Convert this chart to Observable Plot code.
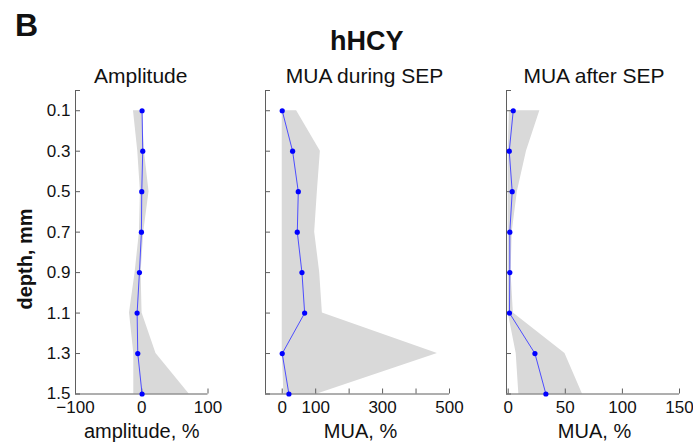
<!DOCTYPE html>
<html><head><meta charset="utf-8">
<script src="https://cdn.jsdelivr.net/npm/d3@7"></script>
<script src="https://cdn.jsdelivr.net/npm/@observablehq/plot@0.6"></script>
<style>
html,body{margin:0;padding:0;background:#fff;}
#fig{position:relative;width:693px;height:443px;overflow:hidden;font-family:"Liberation Sans",Arial,sans-serif;color:#111;}
#fig svg{position:absolute;left:0;top:0;}
.t{position:absolute;white-space:nowrap;line-height:1;}
</style></head><body>
<div id="fig">
<div class="t" style="left:15px;top:9px;font-size:32px;font-weight:bold;">B</div>
<div class="t" style="left:366.7px;top:28px;font-size:27px;font-weight:bold;transform:translateX(-50%);">hHCY</div>
<div class="t" style="left:25px;top:259px;font-size:20px;font-weight:bold;transform:translate(-50%,-50%) rotate(-90deg);">depth, mm</div>
</div>
<script>
// depth levels (mm)
const depth = [0.1, 0.3, 0.5, 0.7, 0.9, 1.1, 1.3, 1.5];
const depthLabels = [0.1, 0.3, 0.5, 0.7, 0.9, 1.1, 1.3, 1.5];

// Amplitude, %
const ampMean = [0.5, 1.5, 0, -0.5, -3.5, -7, -6, 0.5];
const ampLo   = [-12.5, -6, -2, -3.5, -10, -18.5, -12, -12];
const ampHi   = [1, 4, 11, 3, -1, 0.5, 21.5, 71.5];
const ampTicks = [-100, 0, 100];
const ampTickLabels = [-100, 0, 100];

// MUA during SEP, %
const duringMean = [0, 31, 48, 45, 59, 67, 0, 20];
const duringLo   = [0, 0, 0, 0, 0, 0, 0, 5];
const duringHi   = [43, 114, 105, 97, 112, 120, 464, 105];
const duringTicks = [0, 100, 200, 300, 400, 500];
const duringTickLabels = [0, 100, 300, 500];

// MUA after SEP, %
const afterMean = [4.4, 0.9, 3.5, 1.4, 1.4, 1.1, 23.4, 33];
const afterLo   = [1, 0, 0, 0, 0, 0, 7, 9.3];
const afterHi   = [27.7, 16, 8, 3.5, 2.5, 4.5, 49.7, 65];
const afterTicks = [0, 50, 100, 150];
const afterTickLabels = [0, 50, 100, 150];

const W = 693, H = 443;
const axisColor = "#5f5f5f";
const yTickMarks = [0, ...depth];

const panels = [
  {title: "Amplitude", xlabel: "amplitude, %", mean: ampMean, lo: ampLo, hi: ampHi,
   domain: [-100, 100], left: 75, right: 207.5, ticks: ampTicks, labels: ampTickLabels, showY: true, titleDx: -1, labelDx: 0},
  {title: "MUA during SEP", xlabel: "MUA, %", mean: duringMean, lo: duringLo, hi: duringHi,
   domain: [-50, 500], left: 265, right: 449, ticks: duringTicks, labels: duringTickLabels, showY: false, titleDx: 7, labelDx: 3},
  {title: "MUA after SEP", xlabel: "MUA, %", mean: afterMean, lo: afterLo, hi: afterHi,
   domain: [-1.5, 150], left: 506, right: 679, ticks: afterTicks, labels: afterTickLabels, showY: false, titleDx: 1, labelDx: 1.5}
];

const fig = document.getElementById("fig");
for (const p of panels) {
  const rows = depth.map((d, i) => ({depth: d, mean: p.mean[i], lo: p.lo[i], hi: p.hi[i]}));
  const [x0, x1] = p.domain;
  const marks = [
    Plot.areaX(rows, {y: "depth", x1: "lo", x2: "hi", fill: "#d9d9d9"}),
    Plot.ruleX([x0], {y1: 0, y2: 1.5, stroke: axisColor}),
    Plot.ruleY([1.5], {x1: x0, x2: x1, stroke: axisColor}),
    Plot.ruleX(p.ticks, {x: d => d, y1: 1.5, y2: 1.5, insetBottom: 5, stroke: axisColor}),
    Plot.ruleY(yTickMarks, {y: d => d, x1: x0, x2: x0, insetRight: -5, stroke: axisColor}),
    Plot.lineX(rows, {x: "mean", y: "depth", stroke: "#4d4dff", strokeWidth: 1}),
    Plot.dot(rows, {x: "mean", y: "depth", r: 2.6, fill: "#0000ff"}),
    Plot.axisX(p.labels, {tickSize: 0, tickPadding: 6.5, fontSize: 17, label: null}),
    Plot.text([p.title], {frameAnchor: "top", dy: -8, dx: p.titleDx, lineAnchor: "bottom", fontSize: 21}),
    Plot.text([p.xlabel], {frameAnchor: "bottom", dy: 43.5, dx: p.labelDx, lineAnchor: "bottom", fontSize: 20})
  ];
  if (p.showY) marks.push(Plot.axisY(depthLabels, {anchor: "left", tickSize: 0, tickPadding: 5, fontSize: 17, label: null}));
  const chart = Plot.plot({
    width: W, height: H,
    marginLeft: p.left, marginRight: W - p.right, marginTop: 90, marginBottom: 49.5,
    x: {domain: p.domain},
    y: {domain: [0, 1.5], reverse: true, axis: p.showY ? undefined : null},
    style: {fontFamily: "'Liberation Sans', Arial, sans-serif", color: "#111", background: "transparent", overflow: "visible"},
    marks
  });
  fig.appendChild(chart);
}
</script>
</body></html>
